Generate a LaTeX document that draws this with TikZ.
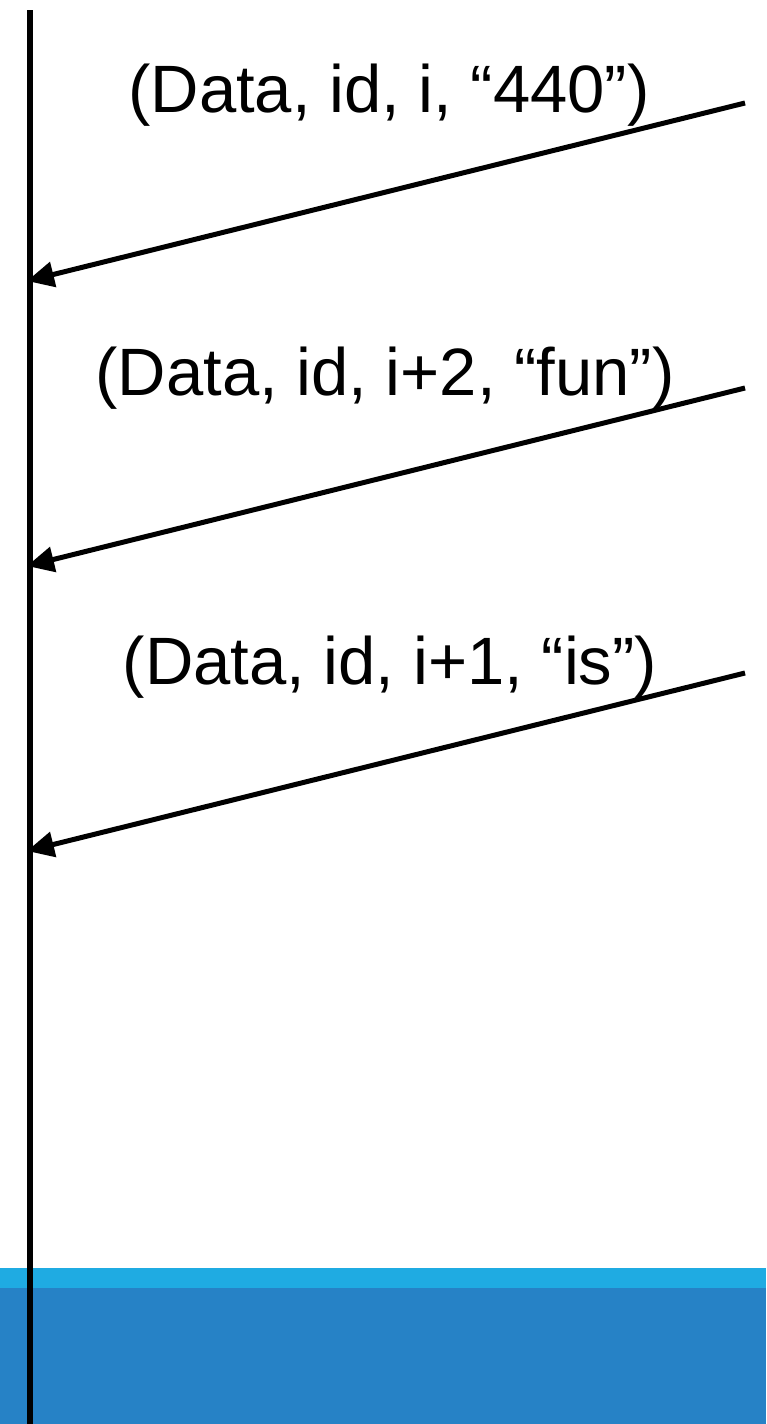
\documentclass[tikz,border=0pt]{standalone}
\usepackage{xcolor}
\usepackage{fontspec}
\setmainfont{Liberation Sans}
\usepackage{tikz}
\usetikzlibrary{positioning,arrows.meta,calc,backgrounds}

\definecolor{bandlight}{HTML}{1FABE2}
\definecolor{banddark}{HTML}{2682C6}

\begin{document}
\begin{tikzpicture}[x=1pt,y=-1pt,
    msg/.style={-{Triangle[length=27pt,width=25pt]}, line width=5pt, black},
    lbl/.style={anchor=base, font=\fontsize{67}{72}\selectfont, inner sep=0pt}]
    \useasboundingbox (0,0) rectangle (766,1424);

    % footer band
    \fill[bandlight] (0,1268) rectangle (766,1288);
    \fill[banddark] (0,1288) rectangle (766,1424);

    % receiver timeline
    \coordinate (top) at (30,10);
    \coordinate (bottom) at (30,1424);
    \draw[line width=6pt] (top) -- (bottom);

    % messages
    \coordinate (s1) at (745,103);
    \coordinate (r1) at (27,281);
    \coordinate (s2) at (745,388);
    \coordinate (r2) at (27,566);
    \coordinate (s3) at (745,673);
    \coordinate (r3) at (27,851);

    \draw[msg] (s1) -- (r1);
    \draw[msg] (s2) -- (r2);
    \draw[msg] (s3) -- (r3);

    \node[lbl] (m1) at (389,112) {(Data, id, i, “440”)};
    \node[lbl] (m2) at (385,395) {(Data, id, i+2, “fun”)};
    \node[lbl] (m3) at (390,684) {(Data, id, i+1, “is”)};
\end{tikzpicture}
\end{document}
